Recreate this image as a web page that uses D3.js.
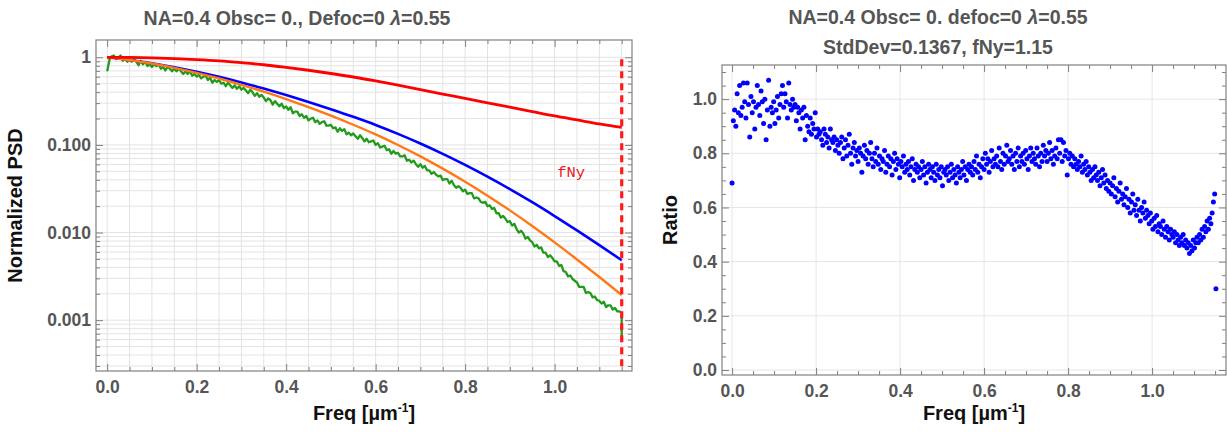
<!DOCTYPE html>
<html>
<head>
<meta charset="utf-8">
<script src="https://cdn.jsdelivr.net/npm/d3@7"></script>
<style>
  body { margin: 0; background: #fff; }
  svg { display: block; font-family: 'Liberation Sans', Arial, sans-serif; }
</style>
</head>
<body>
<div id="screen"></div>
<script>
// ---- data ----
// model curves, log10 of normalized PSD, sampled every 0.05 1/um from 0 to 1.15
const curveStep = 0.05
const redLog = [0, -0.002, -0.007, -0.015, -0.027, -0.042, -0.062, -0.085, -0.115, -0.148, -0.185, -0.225,
  -0.27, -0.318, -0.37, -0.42, -0.468, -0.52, -0.57, -0.62, -0.67, -0.715, -0.76, -0.80]
const blueLog = [0, -0.03, -0.068, -0.113, -0.165, -0.223, -0.287, -0.356, -0.43, -0.509, -0.592, -0.679,
  -0.772, -0.874, -0.984, -1.102, -1.228, -1.362, -1.504, -1.654, -1.812, -1.976, -2.144, -2.316]
const orangeLog = [0, -0.031, -0.071, -0.120, -0.177, -0.242, -0.314, -0.393, -0.478, -0.570, -0.667, -0.770,
  -0.880, -1.001, -1.131, -1.271, -1.420, -1.579, -1.747, -1.925, -2.112, -2.307, -2.507, -2.713]

// measured PSD (green), log10, every 0.005 1/um, plus the last bin at fNy
const greenStep = 0.005
const greenLog = [
  -0.16, -0.03, 0.01, 0.02, -0.02, 0.00, 0.02, -0.04, -0.01, -0.05,
  -0.02, -0.05, -0.02, -0.05, -0.09, -0.04, -0.08, -0.05, -0.10, -0.08,
  -0.11, -0.08, -0.10, -0.08, -0.13, -0.11, -0.15, -0.11, -0.13, -0.16,
  -0.13, -0.16, -0.13, -0.16, -0.19, -0.16, -0.19, -0.16, -0.21, -0.19,
  -0.22, -0.20, -0.24, -0.22, -0.21, -0.26, -0.23, -0.29, -0.26, -0.28,
  -0.26, -0.30, -0.29, -0.33, -0.29, -0.32, -0.35, -0.32, -0.36, -0.33,
  -0.37, -0.35, -0.38, -0.41, -0.37, -0.40, -0.44, -0.41, -0.45, -0.43,
  -0.46, -0.50, -0.47, -0.49, -0.54, -0.50, -0.53, -0.56, -0.53, -0.58,
  -0.56, -0.60, -0.57, -0.64, -0.62, -0.62, -0.67, -0.65, -0.69, -0.67,
  -0.72, -0.70, -0.69, -0.74, -0.72, -0.76, -0.74, -0.73, -0.78, -0.78,
  -0.77, -0.81, -0.80, -0.85, -0.81, -0.84, -0.82, -0.88, -0.86, -0.89,
  -0.87, -0.90, -0.93, -0.89, -0.92, -0.96, -0.93, -0.97, -0.96, -0.95,
  -1.00, -0.98, -1.03, -1.02, -1.01, -1.06, -1.05, -1.10, -1.07, -1.10,
  -1.09, -1.13, -1.13, -1.12, -1.18, -1.17, -1.20, -1.18, -1.22, -1.25,
  -1.22, -1.26, -1.24, -1.29, -1.29, -1.33, -1.31, -1.34, -1.36, -1.35,
  -1.40, -1.39, -1.39, -1.44, -1.41, -1.46, -1.49, -1.47, -1.49, -1.53,
  -1.51, -1.56, -1.55, -1.55, -1.61, -1.60, -1.61, -1.65, -1.66, -1.65,
  -1.70, -1.69, -1.73, -1.72, -1.78, -1.78, -1.83, -1.81, -1.84, -1.88,
  -1.87, -1.92, -1.90, -1.96, -2.00, -1.98, -2.01, -2.07, -2.05, -2.09,
  -2.11, -2.16, -2.14, -2.18, -2.17, -2.23, -2.23, -2.28, -2.26, -2.29,
  -2.33, -2.33, -2.38, -2.37, -2.44, -2.45, -2.50, -2.49, -2.53, -2.55,
  -2.57, -2.62, -2.62, -2.62, -2.69, -2.68, -2.69, -2.74, -2.73, -2.77,
  -2.78, -2.81, -2.79, -2.85, -2.83, -2.83, -2.88, -2.86, -2.90, -2.90,
  -2.92]
const greenEndLog = -3.2
const fNy = 1.15

// ratio scatter, every 0.003 1/um
const ratioStep = 0.003
const ratio = [
  0.69, 0.92, 0.96, 0.90, 1.02, 0.95, 1.05, 0.94, 0.97, 1.06,
  0.99, 0.93, 1.06, 0.98, 0.86, 1.01, 0.95, 0.99, 0.89, 0.97,
  1.05, 0.98, 0.94, 1.03, 0.99, 0.91, 1.00, 0.85, 0.96, 1.07,
  0.90, 0.97, 0.95, 0.99, 0.91, 0.96, 1.01, 0.93, 0.98, 1.02,
  1.05, 0.97, 1.02, 0.99, 0.93, 1.06, 0.98, 0.96, 1.00, 0.97,
  0.98, 0.92, 0.97, 0.95, 0.89, 0.96, 0.93, 0.97, 0.85, 0.94,
  0.90, 0.88, 0.93, 0.87, 0.91, 0.89, 0.95, 0.86, 0.89, 0.87,
  0.88, 0.85, 0.83, 0.89, 0.87, 0.84, 0.86, 0.82, 0.89, 0.85,
  0.84, 0.86, 0.81, 0.85, 0.83, 0.80, 0.84, 0.86, 0.78, 0.82,
  0.85, 0.79, 0.83, 0.87, 0.80, 0.76, 0.82, 0.84, 0.79, 0.81,
  0.77, 0.82, 0.80, 0.73, 0.79, 0.83, 0.78, 0.81, 0.76, 0.80,
  0.84, 0.78, 0.75, 0.80, 0.77, 0.82, 0.76, 0.79, 0.74, 0.78,
  0.77, 0.81, 0.73, 0.76, 0.79, 0.75, 0.78, 0.72, 0.77, 0.80,
  0.74, 0.78, 0.76, 0.71, 0.77, 0.75, 0.79, 0.73, 0.76, 0.74,
  0.77, 0.72, 0.75, 0.78, 0.70, 0.74, 0.76, 0.73, 0.75, 0.71,
  0.74, 0.77, 0.72, 0.75, 0.69, 0.73, 0.76, 0.74, 0.71, 0.75,
  0.73, 0.70, 0.76, 0.72, 0.74, 0.71, 0.75, 0.68, 0.73, 0.74,
  0.72, 0.75, 0.70, 0.73, 0.76, 0.71, 0.74, 0.72, 0.69, 0.75,
  0.73, 0.71, 0.74, 0.77, 0.72, 0.75, 0.70, 0.74, 0.76, 0.73,
  0.75, 0.72, 0.77, 0.74, 0.79, 0.73, 0.76, 0.71, 0.75, 0.78,
  0.74, 0.80, 0.76, 0.78, 0.73, 0.77, 0.81, 0.75, 0.78, 0.76,
  0.79, 0.75, 0.82, 0.77, 0.74, 0.80, 0.76, 0.79, 0.83, 0.77,
  0.78, 0.81, 0.76, 0.79, 0.74, 0.80, 0.77, 0.82, 0.75, 0.79,
  0.77, 0.80, 0.76, 0.81, 0.78, 0.74, 0.79, 0.82, 0.77, 0.80,
  0.78, 0.76, 0.82, 0.79, 0.75, 0.80, 0.77, 0.83, 0.79, 0.81,
  0.77, 0.80, 0.84, 0.78, 0.81, 0.76, 0.79, 0.82, 0.78, 0.85,
  0.80, 0.85, 0.77, 0.84, 0.79, 0.81, 0.72, 0.78, 0.80, 0.76,
  0.79, 0.75, 0.78, 0.76, 0.74, 0.77, 0.75, 0.79, 0.73, 0.76,
  0.74, 0.77, 0.72, 0.75, 0.73, 0.70, 0.74, 0.71, 0.75, 0.72,
  0.70, 0.73, 0.68, 0.71, 0.74, 0.69, 0.72, 0.67, 0.70, 0.66,
  0.69, 0.65, 0.68, 0.71, 0.64, 0.67, 0.62, 0.66, 0.69, 0.63,
  0.65, 0.61, 0.64, 0.67, 0.60, 0.63, 0.58, 0.62, 0.65, 0.59,
  0.61, 0.57, 0.63, 0.59, 0.55, 0.60, 0.58, 0.62, 0.56, 0.59,
  0.57, 0.54, 0.58, 0.55, 0.52, 0.56, 0.53, 0.57, 0.51, 0.54,
  0.53, 0.50, 0.55, 0.52, 0.49, 0.53, 0.51, 0.48, 0.52, 0.50,
  0.49, 0.51, 0.47, 0.50, 0.48, 0.46, 0.49, 0.47, 0.50, 0.46,
  0.48, 0.45, 0.47, 0.43, 0.46, 0.44, 0.48, 0.45, 0.47, 0.49,
  0.47, 0.50, 0.48, 0.52, 0.49, 0.53, 0.51, 0.55, 0.52, 0.56,
  0.54, 0.58, 0.62, 0.65, 0.30]

const psdTicks = [1, 0.1, 0.01, 0.001]
const psdTickLabels = ['1', '0.100', '0.010', '0.001']
const freqTicks = [0, 0.2, 0.4, 0.6, 0.8, 1.0]
const ratioTicks = [0, 0.2, 0.4, 0.6, 0.8, 1.0]

const W = 1227
const H = 432
const labelFont = "'Liberation Sans', Arial, sans-serif"

const svg = d3.select('#screen').append('svg')
  .attr('width', W)
  .attr('height', H)

// title with an italic lambda at the end
function title (cx, y, before, after) {
  const t = svg.append('text')
    .attr('x', cx).attr('y', y)
    .attr('text-anchor', 'middle')
    .attr('font-size', 19.5).attr('font-weight', 'bold')
    .attr('fill', '#555')
  t.append('tspan').text(before)
  if (after !== undefined) {
    t.append('tspan').attr('font-style', 'italic').text('λ')
    t.append('tspan').text(after)
  }
}

// frame with inward ticks on all four sides
function frame (box, x, y, o) {
  const g = svg.append('g')
  const ax = (gen, tx, ty, vals, size, fmt, pad) => {
    const a = g.append('g')
      .attr('transform', `translate(${tx},${ty})`)
      .call(gen.tickValues(vals).tickSize(-size).tickPadding(pad || 3).tickFormat(fmt || ''))
    a.select('.domain').remove()
    a.attr('color', '#808080')
      .attr('font-family', labelFont).attr('font-size', 17.5).attr('font-weight', 'bold')
    a.selectAll('text').attr('fill', '#555')
    return a
  }
  ax(d3.axisBottom(x), 0, box.bottom, o.xMajor, 7, o.xFmt, o.xPad)
  ax(d3.axisBottom(x), 0, box.bottom, o.xMinor, 4)
  ax(d3.axisTop(x), 0, box.top, o.xMajor, 7)
  ax(d3.axisTop(x), 0, box.top, o.xMinor, 4)
  ax(d3.axisLeft(y), box.left, 0, o.yMajor, 7, o.yFmt, 5)
  ax(d3.axisLeft(y), box.left, 0, o.yMinor, 4)
  ax(d3.axisRight(y), box.right, 0, o.yMajor, 7)
  ax(d3.axisRight(y), box.right, 0, o.yMinor, 4)
  g.append('rect')
    .attr('x', box.left).attr('y', box.top)
    .attr('width', box.right - box.left).attr('height', box.bottom - box.top)
    .attr('fill', 'none').attr('stroke', '#808080').attr('stroke-width', 1.2)
}

function grid (box, x, y, xs, ys, color) {
  const g = svg.append('g').attr('stroke', color).attr('stroke-width', 1)
  g.selectAll('line.v').data(xs).join('line').attr('class', 'v')
    .attr('x1', d => x(d)).attr('x2', d => x(d))
    .attr('y1', box.top).attr('y2', box.bottom)
  g.selectAll('line.h').data(ys).join('line').attr('class', 'h')
    .attr('x1', box.left).attr('x2', box.right)
    .attr('y1', d => y(d)).attr('y2', d => y(d))
}

function axisTitles (box, xText, yText, yx, xy) {
  const xt = svg.append('text')
    .attr('x', (box.left + box.right) / 2).attr('y', xy)
    .attr('text-anchor', 'middle')
    .attr('font-size', 20).attr('font-weight', 'bold').attr('fill', '#111')
  xt.append('tspan').text(xText)
  xt.append('tspan').attr('font-size', 12).attr('dy', -8).text('-1')
  xt.append('tspan').attr('dy', 8).text(']')
  svg.append('text')
    .attr('transform', `translate(${yx},${(box.top + box.bottom) / 2}) rotate(-90)`)
    .attr('text-anchor', 'middle')
    .attr('font-size', 20).attr('font-weight', 'bold').attr('fill', '#111')
    .text(yText)
}

// ---------------- left: normalized PSD ----------------
function drawPsd () {
  const box = { left: 96, top: 40, right: 632, bottom: 371 }
  const x = d3.scaleLinear().domain([-0.025, 1.173]).range([box.left, box.right])
  const y = d3.scaleLog().domain([0.000263, 1.575]).range([box.bottom, box.top])

  const xMinor = d3.range(0, 1.1501, 0.05).map(d => +d.toFixed(2))
  const yAll = y.ticks()
  const yMinor = yAll.filter(d => !psdTicks.some(p => Math.abs(p - d) < 1e-12))

  grid(box, x, y, xMinor, yAll, '#e3e3e3')

  const curve = (logs, step) => logs.map((v, i) => ({ f: i * step, v: Math.pow(10, v) }))
  const line = d3.line().x(d => x(d.f)).y(d => y(d.v))
  const smooth = d3.line().x(d => x(d.f)).y(d => y(d.v)).curve(d3.curveMonotoneX)

  const green = curve(greenLog, greenStep)
  green.push({ f: fNy, v: Math.pow(10, greenEndLog) })

  const g = svg.append('g').attr('fill', 'none').attr('stroke-linejoin', 'round')
  g.append('path').attr('d', line(green)).attr('stroke', '#229a1c').attr('stroke-width', 2.3)
  g.append('path').attr('d', smooth(curve(blueLog, curveStep))).attr('stroke', '#0000ff').attr('stroke-width', 2.6)
  g.append('path').attr('d', smooth(curve(orangeLog, curveStep))).attr('stroke', '#ff7814').attr('stroke-width', 2.4)
  g.append('path').attr('d', smooth(curve(redLog, curveStep))).attr('stroke', '#ff0000').attr('stroke-width', 2.8)

  // Nyquist marker
  svg.append('line')
    .attr('x1', x(fNy)).attr('x2', x(fNy))
    .attr('y1', y(1) + 2).attr('y2', box.bottom)
    .attr('stroke', '#ff1a1a').attr('stroke-width', 3.2)
    .attr('stroke-dasharray', '7,5')
  svg.append('text')
    .attr('x', x(1.037)).attr('y', y(0.049) + 5)
    .attr('text-anchor', 'middle')
    .attr('font-family', "'Liberation Mono', 'Courier New', monospace")
    .attr('font-size', 15.5).attr('fill', '#e8141e')
    .text('fNy')

  frame(box, x, y, {
    xMajor: freqTicks,
    xMinor: xMinor.filter(d => !freqTicks.some(t => Math.abs(t - d) < 1e-9)),
    xFmt: d3.format('.1f'),
    xPad: 10,
    yMajor: psdTicks,
    yMinor,
    yFmt: d => psdTickLabels[psdTicks.indexOf(d)]
  })

  title(297, 25, 'NA=0.4 Obsc= 0., Defoc=0 ', '=0.55')
  axisTitles(box, 'Freq [µm', 'Normalized PSD', 22, 420)
}

// ---------------- right: ratio scatter ----------------
function drawRatio () {
  const box = { left: 722, top: 65, right: 1226, bottom: 375 }
  const x = d3.scaleLinear().domain([-0.024, 1.176]).range([box.left, box.right])
  const y = d3.scaleLinear().domain([-0.0185, 1.126]).range([box.bottom, box.top])

  grid(box, x, y, freqTicks, ratioTicks, '#e6e6e6')

  const xMinor = d3.range(0, 1.1501, 0.05).map(d => +d.toFixed(2))
    .filter(d => !freqTicks.some(t => Math.abs(t - d) < 1e-9))
  const yMinor = d3.range(0, 1.1001, 0.05).map(d => +d.toFixed(2))
    .filter(d => !ratioTicks.some(t => Math.abs(t - d) < 1e-9))

  svg.append('g').attr('fill', '#0000ff')
    .selectAll('circle')
    .data(ratio)
    .join('circle')
    .attr('cx', (d, i) => x(i * ratioStep))
    .attr('cy', d => y(d))
    .attr('r', 2.5)

  frame(box, x, y, {
    xMajor: freqTicks,
    xMinor,
    xFmt: d3.format('.1f'),
    xPad: 10,
    yMajor: ratioTicks,
    yMinor,
    yFmt: d3.format('.1f')
  })

  title(938, 24, 'NA=0.4 Obsc= 0. defoc=0 ', '=0.55')
  title(938, 54, 'StdDev=0.1367, fNy=1.15')
  axisTitles(box, 'Freq [µm', 'Ratio', 677, 420)
}

drawPsd()
drawRatio()
</script>
</body>
</html>
